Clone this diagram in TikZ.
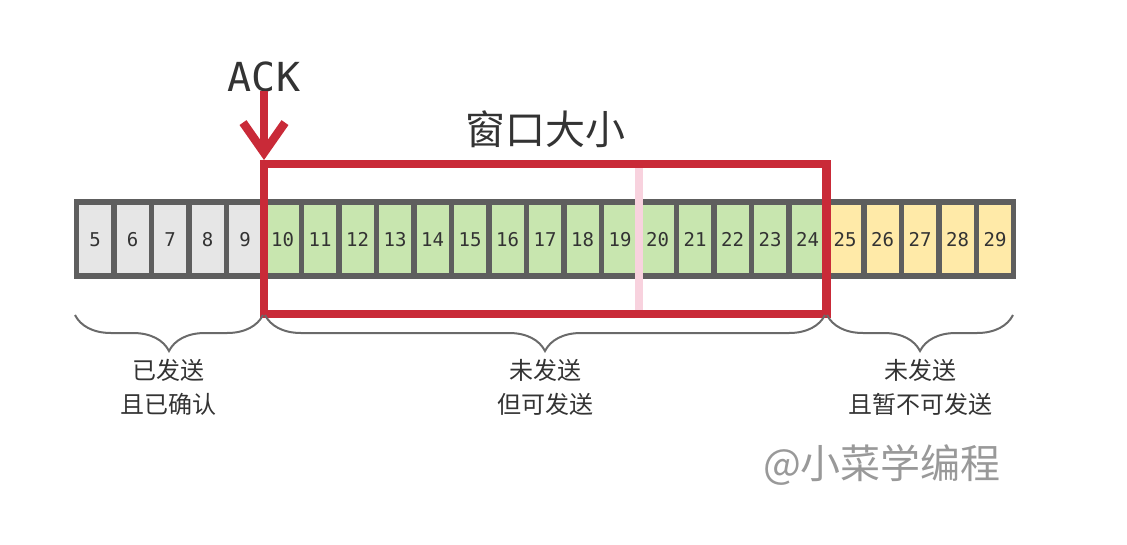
\documentclass[tikz,border=0pt]{standalone}
\usepackage{fontspec}
\setmonofont{DejaVu Sans Mono}
\newfontfamily\cjk{Noto Sans CJK SC}
\usetikzlibrary{arrows.meta,decorations.pathreplacing}
\definecolor{ackred}{RGB}{201,42,56}
\definecolor{framegray}{RGB}{94,94,94}
\definecolor{txtgray}{RGB}{51,51,51}
\definecolor{cellgray}{RGB}{230,230,230}
\definecolor{cellgreen}{RGB}{200,230,175}
\definecolor{cellyellow}{RGB}{255,234,168}
\definecolor{markpink}{RGB}{248,210,222}
\definecolor{bracegray}{RGB}{106,106,106}
\definecolor{markgray}{RGB}{153,153,153}
\tikzstyle{cell}=[
    minimum width = 32pt,
    minimum height = 68pt,
    inner sep = 0pt,
    text height = 14pt,
    text depth = 0pt,
    text = txtgray,
    font = \ttfamily\fontsize{19}{19}\selectfont
]
\tikzstyle{sent cell}=[cell, fill = cellgray]
\tikzstyle{ready cell}=[cell, fill = cellgreen]
\tikzstyle{wait cell}=[cell, fill = cellyellow]
\tikzstyle{group brace}=[
    draw = bracegray,
    line width = 2pt,
    decorate,
    decoration = {brace, amplitude = 36pt}
]
\tikzstyle{group label}=[
    align = center,
    text = txtgray,
    font = \cjk\fontsize{24}{34}\selectfont
]

\begin{document}
\begin{tikzpicture}[x=1pt, y=-1pt, window/.style = {draw = ackred, line width = 8.5pt}]
        \useasboundingbox (0,0) rectangle (1127,544);

        % the strip of sequence numbers
        \fill[framegray] (74,199) rectangle (1016,279);
        \foreach \n in {5,...,9}
            \node[sent cell] (c\n) at ({95+37.5*(\n-5)},239) {\n};
        \foreach \n in {10,...,24}
            \node[ready cell] (c\n) at ({95+37.5*(\n-5)},239) {\n};
        \foreach \n in {25,...,29}
            \node[wait cell] (c\n) at ({95+37.5*(\n-5)},239) {\n};

        \draw[markpink, line width = 8pt] (638.5,168) -- (638.5,310);

        % window
        \coordinate (wtl) at (264,164);
        \coordinate (wbr) at (826.5,314);
        \draw[window] (wtl) rectangle (wbr);
        \node[txtgray, font = \cjk\fontsize{40}{40}\selectfont] (wsize) at (545,129) {窗口大小};

        \node[txtgray, inner sep = 0pt, anchor = base, font = \ttfamily\fontsize{40}{40}\selectfont] (ack) at (264,91) {ACK};
        \draw[window, shorten >= 4pt, -{Straight Barb[length = 30pt, width = 42pt]}] (ack.base) -- (wtl);

        % braces and labels
        \coordinate (b1) at (75,315);
        \coordinate (b2) at (263,315);
        \coordinate (b3) at (265,315);
        \coordinate (b4) at (825,315);
        \coordinate (b5) at (827,315);
        \coordinate (b6) at (1013,315);
        \draw[group brace] (b2) -- (b1);
        \draw[group brace] (b4) -- (b3);
        \draw[group brace] (b6) -- (b5);
        \node[group label] (l1) at (168,387) {已发送\\且已确认};
        \node[group label] (l2) at (545,387) {未发送\\但可发送};
        \node[group label] (l3) at (920,387) {未发送\\且暂不可发送};

        \node[markgray, font = \cjk\fontsize{40}{40}\selectfont] (mark) at (882,465) {@小菜学编程};

    \end{tikzpicture}
\end{document}
